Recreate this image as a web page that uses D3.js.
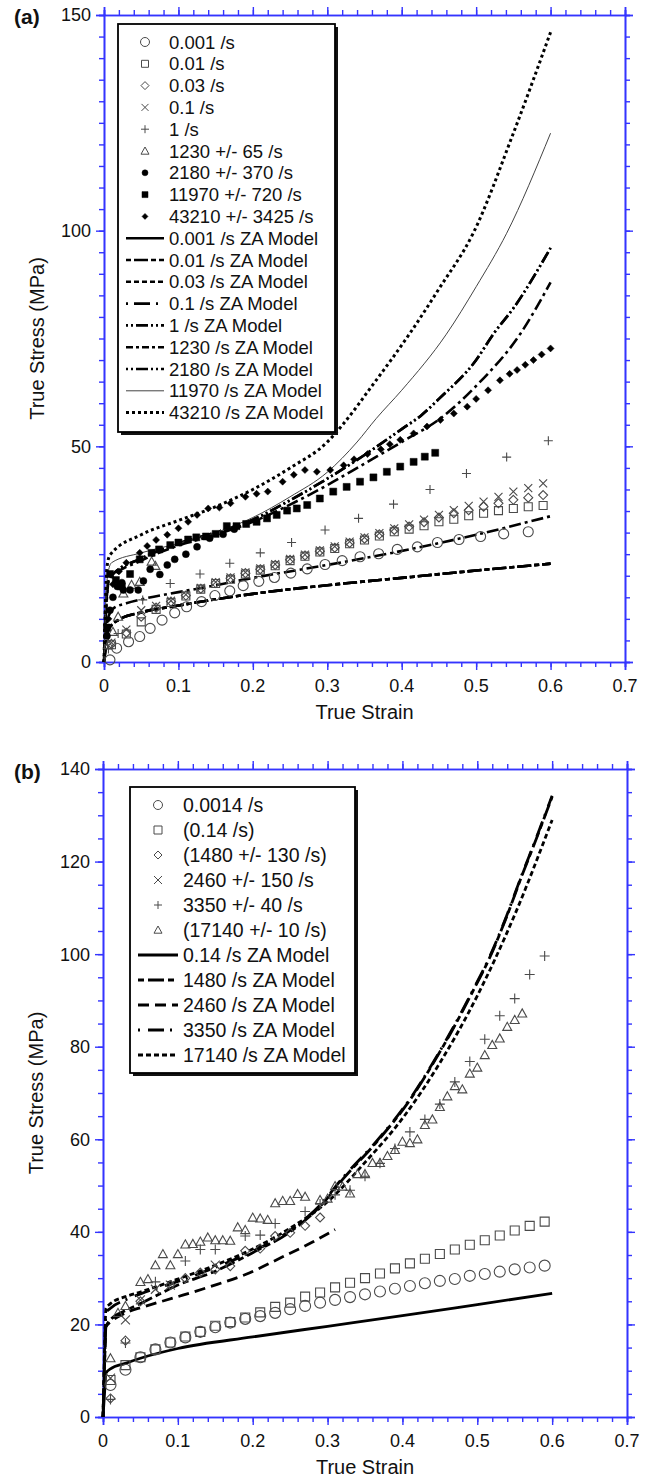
<!DOCTYPE html>
<html><head><meta charset="utf-8">
<script src="https://cdn.jsdelivr.net/npm/d3@7"></script>
<style>body{margin:0;background:#fff}svg{display:block}text{font-family:"Liberation Sans",Arial,sans-serif;fill:#111}</style>
</head><body><svg id="c" width="651" height="1479"></svg>
<script>
// ---------- Panel (a) data ----------
const aTicksX = [0,0.1,0.2,0.3,0.4,0.5,0.6,0.7];
const aTicksY = [0,50,100,150];
const aGridX = [0.01,0.03,0.05,0.07,0.09,0.11,0.13,0.15,0.17,0.19,0.21,0.23,0.25,0.27,0.29,0.31,0.33,0.35,0.37,0.39,0.41,0.43,0.45,0.47,0.49,0.51,0.53,0.55,0.57,0.59];
const a001X = [0.008,0.017,0.033,0.048,0.062,0.078,0.095,0.111,0.131,0.149,0.169,0.187,0.208,0.229,0.251,0.273,0.297,0.32,0.344,0.369,0.394,0.421,0.448,0.477,0.506,0.537,0.57];
const a001Y = [0.5,3.2,4.7,5.9,7.8,9.7,11.4,12.8,14,15.4,16.5,17.7,18.7,19.6,20.6,21.6,22.6,23.5,24.4,25.1,26.1,26.7,27.7,28.4,29.1,29.7,30.2];
const a01Y = [4,6.5,9.3,12.2,13.8,15.3,16.9,18.2,19.2,20.4,21.3,22.3,23.5,24.5,25.5,26.3,27.4,28.3,29.2,30.2,30.8,31.6,32.5,33.1,33.9,34.5,35.1,35.6,36.0,36.3];
const a03Y = [4.2,6.8,10.5,12.6,14,15.4,17,18.3,19.4,20.6,21.5,22.5,23.7,24.7,25.7,26.5,27.6,28.6,29.6,30.6,31.4,32.4,33.5,34.5,35.2,36,36.8,37.6,38.1,38.7];
const a1Y = [4.5,7.5,12,13,14.2,15.6,17.2,18.5,19.6,20.8,21.7,22.7,23.9,24.9,25.9,26.8,27.9,28.9,29.9,31,31.9,33,34.1,35.2,36.2,37.2,38.3,39.5,40.3,41.4];
const aOneX = [0.006,0.019,0.052,0.089,0.129,0.169,0.21,0.252,0.297,0.342,0.389,0.438,0.487,0.541,0.597];
const aOneY = [3,6.6,14.4,18.2,20.4,22.9,25.3,27.7,30.6,33.3,36.6,40,43.7,47.5,51.3];
const a1230X = [0.006,0.012,0.019,0.026,0.037,0.048,0.064,0.069];
const a1230Y = [4,7,10.5,15.9,17.9,18.6,23.3,22.3];
const a2180X = [0.004,0.008,0.012,0.018,0.024,0.026,0.035,0.046,0.053,0.062,0.075,0.085,0.095,0.11,0.125,0.142,0.16,0.175];
const a2180Y = [6,12,15,17.5,18.4,16.7,16.7,16.7,18.8,21.5,20.3,22.5,23.8,25,26.7,28.7,29.6,30.8];
const a11970X = [0.004,0.008,0.016,0.024,0.035,0.048,0.064,0.074,0.089,0.1,0.113,0.124,0.137,0.15,0.165,0.178,0.191,0.205,0.219,0.232,0.246,0.259,0.273,0.29,0.308,0.326,0.344,0.362,0.38,0.398,0.416,0.431,0.445];
const a11970Y = [8,20.4,19,17.5,20.4,23.8,25.3,26.1,27.1,27.7,28.4,28.9,29.1,29.7,31.5,31.5,32,32.5,33.3,34.1,35.1,35.6,36.4,37.9,39.5,40.6,41.8,42.8,44.1,45.3,46.4,47.6,48.5];
const a43210X = [0.006,0.012,0.02,0.03,0.048,0.058,0.07,0.085,0.1,0.113,0.125,0.14,0.155,0.17,0.19,0.205,0.22,0.24,0.255,0.27,0.286,0.304,0.322,0.336,0.354,0.372,0.384,0.398,0.416,0.434,0.452,0.47,0.488,0.5,0.516,0.532,0.545,0.555,0.566,0.577,0.588,0.6];
const a43210Y = [10,18,21,23,25.3,26.9,28.3,29.5,31,32.5,34.1,35.6,35.8,36.8,38.3,39,39.5,41.8,43.4,44.5,44.1,44.5,45.6,47,48.2,49.3,50.5,51.5,53,54.6,56.1,57.6,59.2,61,63,65.3,66.8,67.7,68.9,70,71.3,72.7];
// ZA model curves (a)
const aLowX = [0,0.002,0.004,0.006,0.01,0.02,0.05,0.1,0.2,0.3,0.4,0.5,0.6];
const aLowY = [0,3,6.2,7.4,8.5,9.8,11.5,13.1,15.8,17.8,19.5,21.2,22.8];
const aM01sX = [0,0.002,0.005,0.0125,0.03,0.05,0.1,0.129,0.2,0.3,0.384,0.5,0.6];
const aM01sY = [0,6,10,12.4,13.6,14.5,16.2,17.1,19.5,22.5,25.2,29.5,33.8];
const aM1230X = [0,0.002,0.004,0.006,0.01,0.05,0.1,0.15,0.2,0.25,0.3,0.35,0.4,0.456,0.5,0.559,0.6];
const aM1230Y = [0,9,15,18.5,19.5,23.5,27,29.5,32.5,36.5,41,46,51,57,64,76,88];
const aM2180X = [0,0.002,0.004,0.006,0.01,0.05,0.1,0.15,0.2,0.25,0.3,0.35,0.4,0.425,0.45,0.5,0.523,0.55,0.6];
const aM2180Y = [0,10,16,19,20,24,27.5,30,33,37.5,42.5,48,54,57,61,70,76,82,96];
const aM11970X = [0,0.002,0.004,0.01,0.05,0.1,0.16,0.2,0.25,0.3,0.34,0.366,0.4,0.46,0.5,0.541,0.6];
const aM11970Y = [0,12,19,23,25.3,27.5,30.6,33.5,38.3,44,51,56.5,63,76,87,99.4,122.6];
const aM43210X = [0,0.002,0.004,0.008,0.05,0.1,0.15,0.2,0.25,0.3,0.322,0.36,0.411,0.45,0.496,0.55,0.6];
const aM43210Y = [0,14,22,24.8,29.5,32.8,36,40,45,51,55.3,64,76.2,86.5,99.4,122.6,146];

// ---------- Panel (b) data ----------
const bTicksX = [0,0.1,0.2,0.3,0.4,0.5,0.6,0.7];
const bTicksY = [0,20,40,60,80,100,120,140];
const bGridX = [0.01,0.03,0.05,0.07,0.09,0.11,0.13,0.15,0.17,0.19,0.21,0.23,0.25,0.27,0.29,0.31,0.33,0.35,0.37,0.39,0.41,0.43,0.45,0.47,0.49,0.51,0.53,0.55,0.57,0.59];
const b0014Y = [6.9,10.2,12.9,14.6,16.1,17.2,18.4,19.4,20.4,21.2,21.8,22.5,23.3,24,24.7,25.3,25.9,26.5,27.1,27.7,28.3,28.9,29.4,29.8,30.5,30.9,31.4,31.9,32.3,32.7];
const b014Y = [8,11.2,12.9,14.6,16.1,17.4,18.4,19.7,20.5,21.5,22.6,23.8,24.7,26,26.9,28,29,30,31,32.1,33.2,34.2,35.2,36.2,37.2,38.2,39.2,40.3,41.3,42.2];
const b1480X = [0.01,0.03,0.05,0.09,0.11,0.13,0.15,0.17,0.19,0.21,0.23,0.25,0.27,0.29];
const b1480Y = [4,16.5,25,28.5,30,31.2,31.9,32.6,35.9,36.4,39.1,39.8,41.3,43.1];
const b2460X = [0.01,0.03,0.05,0.07,0.09,0.15];
const b2460Y = [8.4,21,25.3,27.6,28.5,32.8];
const b3350X = [0.01,0.03,0.07,0.11,0.13,0.15,0.19,0.21,0.23,0.27,0.29,0.31,0.33,0.35,0.37,0.39,0.41,0.43,0.45,0.47,0.49,0.51,0.53,0.55,0.57,0.59];
const b3350Y = [3.8,16,29.2,33.7,36.2,36.2,39.1,39.3,41.8,44.4,46,48,49,52,54.8,58,61.6,64.3,67.6,72.4,76.8,81.6,86.7,90.4,95.6,99.6];
const b17140X = [0.01,0.02,0.03,0.05,0.06,0.07,0.08,0.09,0.1,0.11,0.12,0.13,0.14,0.15,0.16,0.17,0.18,0.19,0.2,0.21,0.22,0.23,0.24,0.25,0.26,0.27,0.29,0.3,0.31,0.32,0.33,0.34,0.35,0.36,0.37,0.38,0.39,0.4,0.41,0.42,0.43,0.44,0.45,0.46,0.47,0.48,0.49,0.5,0.51,0.52,0.53,0.54,0.55,0.56];
const b17140Y = [12.7,22.5,24,29.2,29.8,32.8,35.2,32.8,35.2,37.3,37.4,37.9,38.8,38.2,38.2,38.1,41,40.4,43.1,42.9,42.6,46.2,46.7,46.7,48.2,47.6,46.9,47.2,49.9,49.8,48.3,52.5,52.5,54.9,54.9,56.4,57.7,59.5,59.2,60,63.1,64.3,67,69.3,71.5,70.8,74.2,75.5,78.2,80.4,81.8,84.3,85.8,87.2];
// ZA model curves (b)
const bM014X = [0,0.002,0.004,0.01,0.03,0.05,0.1,0.2,0.3,0.4,0.5,0.6];
const bM014Y = [0,5,9.5,10.4,11.6,12.7,14.8,17.3,19.6,21.9,24.3,26.7];
const bM1480X = [0,0.002,0.004,0.01,0.03,0.05,0.1,0.15,0.2,0.25,0.29,0.321,0.366,0.41,0.441,0.468,0.4925,0.517,0.539,0.559,0.579,0.6];
const bM1480Y = [0,11,19.5,21,23,24.5,28.5,31.5,35.5,40,45.5,51.5,59.5,68.5,76.4,84,91.5,99.4,108,116.7,125,134];
const bM3350Y = [0,12,22.5,23.5,25.3,26.6,29.3,32.3,35.8,40.3,45.8,51.8,59.7,68.7,76.6,84.2,91.7,99.6,108.2,116.9,125.2,134.2];
const bM2460X = [0,0.002,0.004,0.01,0.03,0.054,0.1,0.144,0.192,0.24,0.28,0.31];
const bM2460Y = [0,11,19.5,20.5,22.5,23.8,26,28.2,30.9,34.6,37.8,40.5];
const bM17140X = [0,0.002,0.004,0.01,0.03,0.05,0.1,0.15,0.2,0.25,0.3,0.35,0.4,0.45,0.5,0.55,0.6];
const bM17140Y = [0,14,23.5,24.5,26,27,29.8,32.8,36.3,40.8,46.5,55,64.5,76.5,91,108.5,129];

const aLabels = ["0.001 /s","0.01 /s","0.03 /s","0.1 /s","1 /s","1230 +/- 65 /s","2180 +/- 370 /s","11970 +/- 720 /s","43210 +/- 3425 /s",
 "0.001 /s ZA Model","0.01 /s ZA Model","0.03 /s ZA Model","0.1 /s ZA Model","1 /s ZA Model","1230 /s ZA Model","2180 /s ZA Model","11970 /s ZA Model","43210 /s ZA Model"];
const bLabels = ["0.0014 /s","(0.14 /s)","(1480 +/- 130 /s)","2460 +/- 150 /s","3350 +/- 40 /s","(17140 +/- 10 /s)",
 "0.14 /s ZA Model","1480 /s ZA Model","2460 /s ZA Model","3350 /s ZA Model","17140 /s ZA Model"];

// ---------- drawing ----------
const svg = d3.select("#c");
svg.append("rect").attr("width",651).attr("height",1479).attr("fill","#fff");
const BLUE = "#3434ff";
const zip = (xs, ys) => xs.map((x,i)=>[x, ys[i]]);

function markerPath(type, s){
  const h = s/2;
  switch(type){
    case "circle": return d3.symbol(d3.symbolCircle, Math.PI*h*h)();
    case "square": return `M${-h},${-h}H${h}V${h}H${-h}Z`;
    case "diamond": return `M0,${-h}L${h},0L0,${h}L${-h},0Z`;
    case "x": return `M${-h},${-h}L${h},${h}M${-h},${h}L${h},${-h}`;
    case "plus": return `M${-h},0H${h}M0,${-h}V${h}`;
    case "triangle": return `M0,${-h}L${h},${h*0.8}L${-h},${h*0.8}Z`;
  }
}

function drawPanel(o){
  const g = svg.append("g");
  const x = d3.scaleLinear().domain([0,0.7]).range([o.L,o.R]);
  const y = d3.scaleLinear().domain([0,o.yMax]).range([o.B,o.T]);
  const minorX = d3.range(0,0.7001,0.02).map(v=>+v.toFixed(2));
  const minorY = d3.range(0,o.yMax+0.001,5);
  const axes = [
    [d3.axisBottom, o.B, "x"], [d3.axisTop, o.T, "x"],
    [d3.axisLeft, o.L, "y"], [d3.axisRight, o.R, "y"]];
  axes.forEach(([fn,pos,dim])=>{
    const sc = dim==="x"? x : y;
    const tr = dim==="x"? `translate(0,${pos})` : `translate(${pos},0)`;
    const gm = g.append("g").attr("transform",tr)
      .call(fn(sc).tickValues(dim==="x"?minorX:minorY).tickSize(5).tickFormat(""));
    const gM = g.append("g").attr("transform",tr)
      .call(fn(sc).tickValues(dim==="x"?o.ticksX:o.ticksY).tickSize(8).tickFormat(""));
    [gm,gM].forEach(a=>{
      a.selectAll("path").attr("stroke",BLUE).attr("stroke-width",1.6);
      a.selectAll("line").attr("stroke",BLUE).attr("stroke-width",1.4);
    });
  });
  // tick labels
  g.selectAll(".xl").data(o.ticksX).join("text")
    .attr("x",d=>x(d)).attr("y",o.B+30).attr("text-anchor","middle")
    .attr("font-size",18).text(d=>d===0?"0":d3.format(".1f")(d));
  g.selectAll(".yl").data(o.ticksY).join("text")
    .attr("x",o.L-13).attr("y",d=>y(d)).attr("dy","0.36em").attr("text-anchor","end")
    .attr("font-size",18).text(d=>d);
  g.append("text").attr("x",(o.L+o.R)/2).attr("y",o.B+57).attr("text-anchor","middle")
    .attr("font-size",20).text("True Strain");
  g.append("text").attr("transform",`translate(${o.L-67},${(o.T+o.B)/2}) rotate(-90)`)
    .attr("text-anchor","middle").attr("dy","0.36em").attr("font-size",20).text("True Stress (MPa)");
  g.append("text").attr("x",14).attr("y",o.T+o.tagDy).attr("font-size",21).attr("font-weight","bold").text(o.tag);

  const line = d3.line().x(d=>x(d[0])).y(d=>y(d[1])).curve(d3.curveMonotoneX);
  const plot = g.append("g");
  o.models.forEach(m=>{
    plot.append("path").datum(zip(m.x,m.y)).attr("d",line)
      .attr("fill","none").attr("stroke",m.color||"#000").attr("stroke-width",m.w)
      .attr("stroke-dasharray",(m.plotDash!==undefined?m.plotDash:m.dash)||null);
  });
  o.series.forEach(s=>{
    const p = markerPath(s.type, s.size);
    plot.selectAll(null).data(zip(s.x,s.y)).join("path")
      .attr("transform",d=>`translate(${x(d[0])},${y(d[1])})`)
      .attr("d",p).attr("fill",s.fill?"#000":"none")
      .attr("stroke",s.fill?"#000":"#4a4a4a").attr("stroke-width",s.fill?0.5:1.1);
  });

  // legend
  const lg = o.legend;
  const lgG = g.append("g");
  lgG.append("rect").attr("x",lg.x+3).attr("y",lg.y+3).attr("width",lg.w).attr("height",lg.h).attr("fill","#111");
  lgG.append("rect").attr("x",lg.x).attr("y",lg.y).attr("width",lg.w).attr("height",lg.h)
    .attr("fill","#fff").attr("stroke","#000").attr("stroke-width",1.8);
  o.labels.forEach((t,i)=>{
    const yy = lg.row0 + i*lg.dy;
    lgG.append("text").attr("x",lg.tx).attr("y",yy).attr("dy","0.36em").attr("font-size",lg.fs).text(t);
    if(i < o.series.length){
      const s = o.series[i];
      lgG.append("path").attr("transform",`translate(${lg.sx},${yy})`)
        .attr("d",markerPath(s.type, s.lsize)).attr("fill",s.fill?"#000":"none")
        .attr("stroke",s.fill?"#000":"#4a4a4a").attr("stroke-width",s.fill?0.5:1);
    } else {
      const m = o.models[i-o.series.length];
      lgG.append("line").attr("x1",lg.l1).attr("x2",lg.l2).attr("y1",yy).attr("y2",yy)
        .attr("stroke",m.color||"#000").attr("stroke-width",m.w).attr("stroke-dasharray",m.dash||null);
    }
  });
}

// Panel (a) — the three slowest models coincide on the lowest curve
const aModels = [
  {x:aLowX,y:aLowY,w:2.6,dash:null,plotDash:"14,3,5,3"},
  {x:aLowX,y:aLowY,w:2.6,dash:"5,3,14,3",plotDash:"14,3,5,3"},
  {x:aLowX,y:aLowY,w:2.6,dash:"5,3",plotDash:"14,3,5,3"},
  {x:aM01sX,y:aM01sY,w:2.6,dash:"2,6,16,6",plotDash:"12,4,3,4"},
  {x:aM2180X,y:aM2180Y,w:2.6,dash:"2,3,2,3,12,3"},
  {x:aM1230X,y:aM1230Y,w:2.6,dash:"7,3,3,3",plotDash:"12,4,3,4"},
  {x:aM2180X,y:aM2180Y,w:2.6,dash:"2,3,2,3,12,3"},
  {x:aM11970X,y:aM11970Y,w:1,color:"#444"},
  {x:aM43210X,y:aM43210Y,w:3,dash:"3,3"}
];
drawPanel({
  tag:"(a)", tagDy:9, L:104, R:625, T:15, B:662, yMax:150, ticksX:aTicksX, ticksY:aTicksY,
  models:aModels,
  series:[
    {x:a001X,y:a001Y,type:"circle",size:10,lsize:9},
    {x:aGridX,y:a01Y,type:"square",size:8,lsize:7},
    {x:aGridX,y:a03Y,type:"diamond",size:9,lsize:8},
    {x:aGridX,y:a1Y,type:"x",size:8,lsize:7},
    {x:aOneX,y:aOneY,type:"plus",size:9,lsize:8},
    {x:a1230X,y:a1230Y,type:"triangle",size:9,lsize:8},
    {x:a2180X,y:a2180Y,type:"circle",size:7,lsize:6,fill:true},
    {x:a11970X,y:a11970Y,type:"square",size:7,lsize:6,fill:true},
    {x:a43210X,y:a43210Y,type:"diamond",size:7,lsize:6,fill:true}
  ],
  labels:aLabels,
  legend:{x:118,y:24,w:217,h:408,row0:42,dy:21.8,tx:169,sx:145,l1:126,l2:164,fs:18.5}
});

// Panel (b)
const bModels = [
  {x:bM014X,y:bM014Y,w:2.8,dash:null},
  {x:bM1480X,y:bM1480Y,w:2.8,dash:"6,4,16,4"},
  {x:bM2460X,y:bM2460Y,w:2.8,dash:"11,6"},
  {x:bM1480X,y:bM3350Y,w:2.8,dash:"2,8,16,6"},
  {x:bM17140X,y:bM17140Y,w:2.8,dash:"5,3"}
];
drawPanel({
  tag:"(b)", tagDy:10, L:103, R:627, T:769, B:1417, yMax:140, ticksX:bTicksX, ticksY:bTicksY,
  models:bModels,
  series:[
    {x:bGridX,y:b0014Y,type:"circle",size:11,lsize:9},
    {x:bGridX,y:b014Y,type:"square",size:9,lsize:8},
    {x:b1480X,y:b1480Y,type:"diamond",size:9,lsize:8},
    {x:b2460X,y:b2460Y,type:"x",size:9,lsize:8},
    {x:b3350X,y:b3350Y,type:"plus",size:10,lsize:8},
    {x:b17140X,y:b17140Y,type:"triangle",size:9,lsize:8}
  ],
  labels:bLabels,
  legend:{x:130,y:787,w:225,h:286,row0:805,dy:25,tx:183,sx:158,l1:138,l2:178,fs:19.5}
});
</script></body></html>
